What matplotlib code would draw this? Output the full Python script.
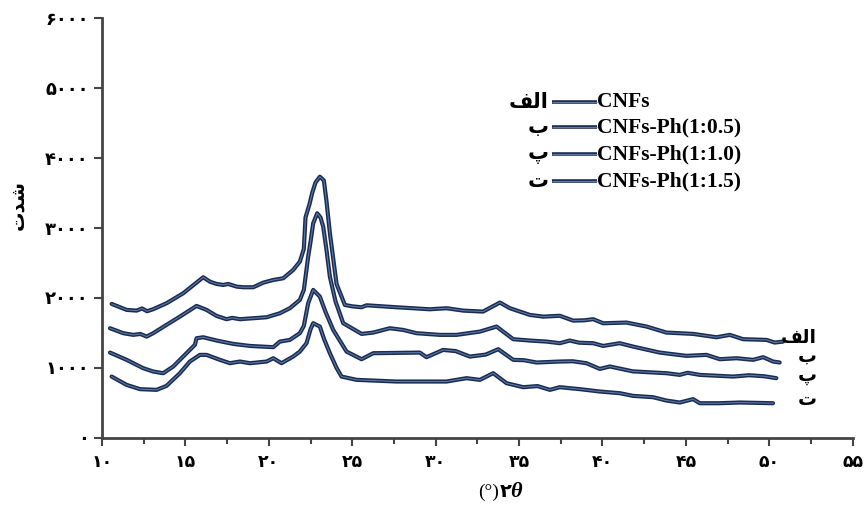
import matplotlib
matplotlib.use("Agg")
import matplotlib.pyplot as plt

# XRD curves (2theta, intensity)
x_alef = [10.58, 11.48, 12.08, 12.4, 12.7, 13.07, 13.87, 14.87, 16.07, 16.47, 16.87, 17.27, 17.57,
          18.07, 18.47, 19.07, 19.67, 20.27, 20.86, 21.46, 21.86, 22.1, 22.2, 22.45, 22.6, 22.8,
          23.06, 23.3, 23.45, 23.66, 24.06, 24.56, 25.0, 25.56, 25.86, 27.65, 29.65, 30.65, 31.65,
          32.84, 33.85, 34.45, 35.05, 35.65, 36.45, 37.44, 38.24, 38.9, 39.44, 40.04, 41.44,
          42.64, 43.83, 45.43, 46.83, 47.63, 48.43, 49.83, 50.32, 50.82]
y_alef = [1915, 1829, 1819, 1850, 1810, 1839, 1924, 2067, 2296, 2233, 2200, 2186, 2200,
          2162, 2153, 2153, 2219, 2257, 2281, 2400, 2519, 2700, 3150, 3350, 3500, 3650,
          3733, 3680, 3400, 2929, 2200, 1900, 1880, 1867, 1895, 1867, 1838, 1853, 1819,
          1805, 1934, 1853, 1805, 1757, 1733, 1745, 1676, 1680, 1696, 1638, 1648,
          1591, 1505, 1486, 1438, 1472, 1410, 1400, 1362, 1376]

x_be = [10.48, 11.28, 11.88, 12.3, 12.68, 13.07, 13.87, 14.67, 15.67, 16.27, 16.87, 17.47, 17.8,
        18.27, 19.07, 19.87, 20.66, 21.26, 21.86, 22.1, 22.36, 22.5, 22.66, 22.9, 23.1, 23.26,
        23.45, 23.66, 24.0, 24.46, 25.56, 26.26, 27.25, 28.05, 28.85, 30.25, 31.25, 32.65,
        33.65, 34.65, 35.65, 36.65, 37.44, 38.04, 38.6, 39.44, 40.04, 41.03, 41.83, 43.43,
        45.03, 46.23, 47.03, 48.03, 49.03, 49.63, 50.22, 50.62]
y_be = [1567, 1496, 1472, 1485, 1448, 1496, 1615, 1733, 1886, 1829, 1743, 1696, 1715,
        1696, 1710, 1724, 1781, 1853, 1972, 2115, 2591, 2800, 3067, 3210, 3150, 3019,
        2700, 2305, 1950, 1639, 1486, 1505, 1567, 1543, 1496, 1472, 1472, 1519,
        1591, 1410, 1391, 1376, 1353, 1391, 1360, 1353, 1314, 1353, 1305, 1219,
        1172, 1186, 1124, 1138, 1115, 1153, 1091, 1077]

x_pe = [10.48, 11.48, 12.47, 13.07, 13.67, 14.27, 15.07, 15.57, 15.67, 16.07, 16.87, 17.87,
        18.87, 20.27, 20.66, 21.26, 21.86, 22.1, 22.36, 22.66, 23.06, 23.4, 23.86, 24.66,
        25.56, 26.26, 29.05, 29.45, 30.45, 31.2, 32.05, 33.0, 33.75, 34.65, 35.3, 36.05,
        37.44, 38.2, 39.04, 39.84, 40.44, 41.83, 43.83, 44.63, 45.1, 45.83, 47.83, 48.8,
        49.7, 50.42]
y_pe = [1219, 1115, 996, 948, 924, 1019, 1210, 1329, 1424, 1438, 1391, 1343,
        1314, 1296, 1376, 1400, 1496, 1600, 1924, 2115, 2019, 1800, 1543, 1233,
        1124, 1210, 1219, 1153, 1257, 1240, 1162, 1190, 1267, 1115, 1110, 1077,
        1091, 1095, 1067, 985, 1020, 950, 924, 900, 930, 900, 876, 895,
        880, 853]

x_te = [10.58, 11.48, 12.28, 13.28, 13.87, 14.67, 15.27, 15.87, 16.27, 17.07, 17.67, 18.27,
        18.87, 19.87, 20.27, 20.76, 21.46, 21.86, 22.26, 22.5, 22.66, 23.06, 23.3, 23.66,
        24.06, 24.36, 25.26, 27.65, 30.65, 31.85, 32.65, 33.45, 34.25, 35.25, 36.1, 36.85,
        37.44, 38.64, 39.84, 41.04, 41.83, 43.03, 43.83, 44.63, 45.43, 45.83, 47.03, 48.23,
        50.22]
y_te = [876, 757, 696, 686, 743, 924, 1091, 1186, 1186, 1115, 1067, 1091,
        1067, 1091, 1138, 1067, 1162, 1233, 1353, 1550, 1639, 1591, 1420, 1210,
        1000, 876, 829, 805, 805, 853, 829, 924, 781, 724, 740, 686,
        724, 696, 662, 638, 600, 581, 533, 505, 553, 495, 495, 505,
        495]

# Persian labels in presentation forms, visual (left-to-right) order
labels_fa = ["\uFED2\uFEDF\uFE8D", "\uFE8F", "\uFB56", "\uFE95"]
labels_en = ["CNFs", "CNFs-Ph(1:0.5)", "CNFs-Ph(1:1.0)", "CNFs-Ph(1:1.5)"]
y_ticks = [0, 1000, 2000, 3000, 4000, 5000, 6000]
x_ticks = [10, 15, 20, 25, 30, 35, 40, 45, 50, 55]

fa_digits = str.maketrans("0123456789", "۰۱۲۳۴۵۶۷۸۹")
fam = ["Liberation Serif", "DejaVu Sans"]
dark = "#1b2b50"
light = "#5a7aa8"

fig = plt.figure(figsize=(8.64, 5.05), dpi=100)
ax = fig.add_axes([0.118, 0.133, 0.869, 0.831])

curves = [(x_alef, y_alef), (x_be, y_be), (x_pe, y_pe), (x_te, y_te)]
for xs, ys in curves:
    ax.plot(xs, ys, color=dark, lw=3.0, solid_joinstyle="round", solid_capstyle="round")
    ax.plot(xs, ys, color=light, lw=0.8, solid_joinstyle="round")

# end labels
end_y = [1430, 1165, 886, 543]
for lab, yy in zip(labels_fa, end_y):
    ax.text(52.85, yy, lab, ha="right", va="center", fontsize=13.5, fontweight="bold",
            family="DejaVu Sans", color="black")

# legend drawn as text + lines
leg_y = [4800, 4443, 4058, 3672]
for fa, en, yy in zip(labels_fa, labels_en, leg_y):
    ax.plot([37.0, 39.65], [yy, yy], color=dark, lw=2.6, solid_capstyle="butt")
    ax.plot([37.0, 39.65], [yy, yy], color=light, lw=0.8, solid_capstyle="butt")
    ax.text(39.7, yy, en, ha="left", va="center", fontsize=15.5, fontweight="bold",
            family="Liberation Serif")
    ax.text(36.75, yy, fa, ha="right", va="center", fontsize=15, fontweight="bold",
            family="DejaVu Sans")

ax.set_xlim(10, 55)
ax.set_ylim(0, 6000)
ax.set_xticks(x_ticks)
ax.set_xticks([12.5 + 5 * i for i in range(9)], minor=True)
ax.set_yticks(y_ticks)
ax.set_xticklabels([str(t).translate(fa_digits) for t in x_ticks], fontsize=12.5,
                   fontweight="bold", family=fam)
ax.set_yticklabels([str(t).translate(fa_digits) for t in y_ticks], fontsize=13,
                   fontweight="bold", family=fam)
ax.tick_params(axis="both", which="major", direction="out", length=6, width=1.5, color="#444444")
ax.tick_params(axis="x", which="minor", direction="out", length=4, width=1.5, color="#444444")
ax.tick_params(axis="x", pad=6)

for s in ["top", "right"]:
    ax.spines[s].set_visible(False)
for s in ["left", "bottom"]:
    ax.spines[s].set_linewidth(2.0)
    ax.spines[s].set_color("#444444")

# axis titles
fig.text(0.021, 0.594, "\uFE95\uFEAA\uFEB7", rotation=90, ha="center", va="center",
         fontsize=14, fontweight="bold", family="DejaVu Sans")
fig.text(0.578, 0.026, "(°)", ha="right", va="center", fontsize=14, family="Liberation Serif")
fig.text(0.578, 0.026, "۲", ha="left", va="center", fontsize=14, fontweight="bold",
         family="DejaVu Sans")
fig.text(0.591, 0.026, "θ", ha="left", va="center", fontsize=16, fontweight="bold",
         style="italic", family="Liberation Serif")

fig.savefig("out.png", dpi=100)
